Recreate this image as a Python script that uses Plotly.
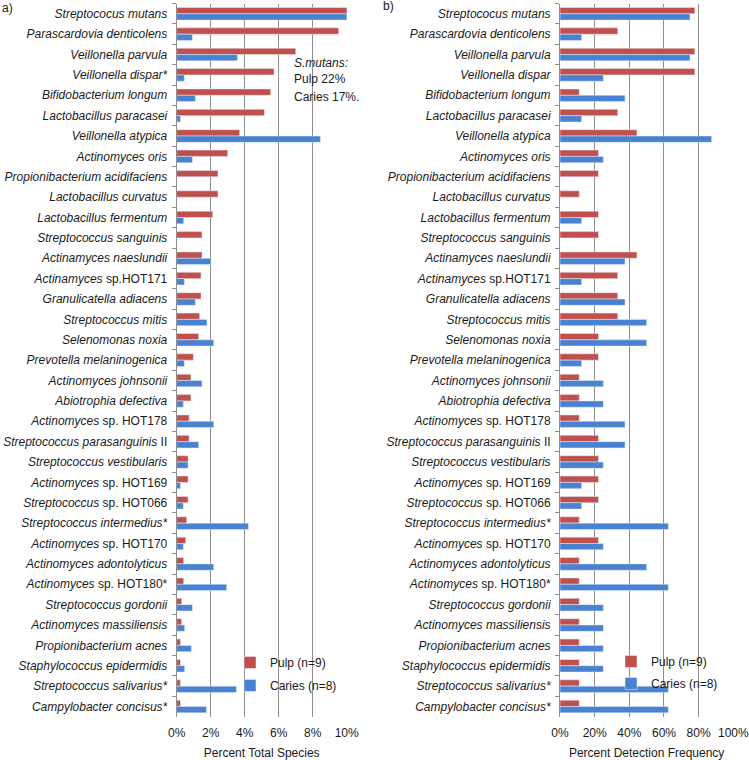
import plotly.graph_objects as go

W, H = 749, 760

species_left = [
    "<i>Streptococus mutans</i>", "<i>Parascardovia denticolens</i>", "<i>Veillonella parvula</i>",
    "<i>Veillonella dispar*</i>", "<i>Bifidobacterium longum</i>", "<i>Lactobacillus paracasei</i>",
    "<i>Veillonella atypica</i>", "<i>Actinomyces oris</i>", "<i>Propionibacterium acidifaciens</i>",
    "<i>Lactobacillus curvatus</i>", "<i>Lactobacillus fermentum</i>", "<i>Streptococcus sanguinis</i>",
    "<i>Actinamyces naeslundii</i>", "<i>Actinamyces</i> sp.HOT171", "<i>Granulicatella adiacens</i>",
    "<i>Streptococcus mitis</i>", "<i>Selenomonas noxia</i>", "<i>Prevotella melaninogenica</i>",
    "<i>Actinomyces johnsonii</i>", "<i>Abiotrophia defectiva</i>", "<i>Actinomyces</i> sp. HOT178",
    "<i>Streptococcus parasanguinis</i> II", "<i>Streptococcus vestibularis</i>", "<i>Actinomyces</i> sp. HOT169",
    "<i>Streptococcus</i> sp. HOT066", "<i>Streptococcus intermedius*</i>", "<i>Actinomyces</i> sp. HOT170",
    "<i>Actinomyces adontolyticus</i>", "<i>Actinomyces</i> sp. HOT180*", "<i>Streptococcus gordonii</i>",
    "<i>Actinomyces massiliensis</i>", "<i>Propionibacterium acnes</i>", "<i>Staphylococcus epidermidis</i>",
    "<i>Streptococcus salivarius*</i>", "<i>Campylobacter concisus*</i>",
]
species_right = [s.replace("<i>Veillonella dispar*</i>", "<i>Veillonella dispar</i>") for s in species_left]

# Panel a) Percent Total Species
pulp_total = [22, 9.53, 7.0, 5.73, 5.53, 5.16, 3.7, 3.0, 2.43, 2.43, 2.12, 1.49, 1.49, 1.43, 1.43,
              1.35, 1.29, 0.98, 0.84, 0.84, 0.73, 0.73, 0.67, 0.67, 0.67, 0.59, 0.53, 0.41, 0.41,
              0.29, 0.29, 0.22, 0.22, 0.22, 0.22]
caries_total = [17, 0.92, 3.57, 0.45, 1.1, 0.22, 8.45, 0.92, 0, 0, 0.41, 0, 2.02, 0.45, 1.1,
                1.78, 2.18, 0.45, 1.49, 0.39, 2.18, 1.29, 0.67, 0.22, 0.39, 4.22, 0.39, 2.18, 2.94,
                0.92, 0.47, 0.86, 0.47, 3.51, 1.75]

# Panel b) Percent Detection Frequency
pulp_freq = [77.8, 33.3, 77.8, 77.8, 11.1, 33.3, 44.4, 22.2, 22.2, 11.1, 22.2, 22.2, 44.4, 33.3, 33.3,
             33.3, 22.2, 22.2, 11.1, 11.1, 11.1, 22.2, 22.2, 22.2, 22.2, 11.1, 22.2, 11.1, 11.1,
             11.1, 11.1, 11.1, 11.1, 11.1, 11.1]
caries_freq = [75, 12.5, 75, 25, 37.5, 12.5, 87.5, 25, 0, 0, 12.5, 0, 37.5, 12.5, 37.5,
               50, 50, 12.5, 25, 25, 37.5, 37.5, 25, 12.5, 12.5, 62.5, 25, 50, 62.5,
               25, 25, 25, 25, 62.5, 62.5]

left_ticks = [0, 2, 4, 6, 8, 10]
left_ticktext = ["0%", "2%", "4%", "6%", "8%", "10%"]
right_ticks = [0, 20, 40, 60, 80, 100]
right_ticktext = ["0%", "20%", "40%", "60%", "80%", "100%"]

RED = "#C0504D"
BLUE = "#4A82D2"
GRID = "#8E8E8E"
FONT = "Liberation Sans, Arial, sans-serif"
TXT = "#1a1a1a"

fig = go.Figure()
fig.add_trace(go.Bar(y=species_left, x=pulp_total, orientation="h", name="Pulp (n=9)",
                     marker_color=RED, xaxis="x", yaxis="y", legend="legend", legendgroup="a1"))
fig.add_trace(go.Bar(y=species_left, x=caries_total, orientation="h", name="Caries (n=8)",
                     marker_color=BLUE, xaxis="x", yaxis="y", legend="legend", legendgroup="a2"))
fig.add_trace(go.Bar(y=species_right, x=pulp_freq, orientation="h", name="Pulp (n=9)",
                     marker_color=RED, xaxis="x2", yaxis="y2", legend="legend2", legendgroup="b1"))
fig.add_trace(go.Bar(y=species_right, x=caries_freq, orientation="h", name="Caries (n=8)",
                     marker_color=BLUE, xaxis="x2", yaxis="y2", legend="legend2", legendgroup="b2"))

ytop = 1 - 3.6 / H
ybot = 1 - 716.7 / H

xcommon = dict(showgrid=True, gridcolor=GRID, gridwidth=1, zeroline=False, showline=False,
               ticks="", tickfont=dict(size=12, color=TXT, family=FONT), automargin=False,
               ticklabelstandoff=7,
               title_font=dict(size=12, color=TXT, family=FONT), title_standoff=9)
ycommon = dict(type="category", autorange="reversed", showgrid=False, showline=True,
               linecolor=GRID, linewidth=1, ticks="outside", tickson="boundaries",
               ticklen=4, tickcolor=GRID, tickfont=dict(size=12, color=TXT, family=FONT),
               ticklabelstandoff=6, automargin=False)

fig.update_layout(
    width=W, height=H,
    margin=dict(l=0, r=0, t=0, b=0, autoexpand=False),
    paper_bgcolor="white", plot_bgcolor="white",
    barmode="group", bargap=0.38, bargroupgap=0,
    hovermode=False,
    font=dict(family=FONT, size=12, color=TXT),
    xaxis=dict(domain=[176.7 / W, 346.7 / W], range=[0, 10], tickvals=left_ticks,
               ticktext=left_ticktext, anchor="y", title_text="Percent Total Species", **xcommon),
    yaxis=dict(domain=[ybot, ytop], anchor="x", categoryorder="array", categoryarray=species_left, **ycommon),
    xaxis2=dict(domain=[560 / W, 733.3 / W], range=[0, 100], tickvals=right_ticks,
                ticktext=right_ticktext, anchor="y2", title_text="Percent Detection Frequency", **xcommon),
    yaxis2=dict(domain=[ybot, ytop], anchor="x2", categoryorder="array", categoryarray=species_right, **ycommon),
    legend=dict(x=230 / W, y=1 - 648 / H, xanchor="left", yanchor="top", bgcolor="rgba(0,0,0,0)",
                font=dict(size=12, color=TXT, family=FONT), tracegroupgap=4, traceorder="grouped"),
    legend2=dict(x=611 / W, y=1 - 647 / H, xanchor="left", yanchor="top", bgcolor="rgba(0,0,0,0)",
                 font=dict(size=12, color=TXT, family=FONT), tracegroupgap=3, traceorder="grouped"),
    annotations=[
        dict(text="a)", x=0, y=1 - 8 / H, xref="paper", yref="paper", xanchor="left",
             yanchor="middle", showarrow=False, font=dict(size=12, color=TXT)),
        dict(text="b)", x=381 / W, y=1 - 6 / H, xref="paper", yref="paper", xanchor="left",
             yanchor="middle", showarrow=False, font=dict(size=12, color=TXT)),
        dict(text="<i>S.mutans:</i>", x=292 / W, y=1 - 62.7 / H, xref="paper", yref="paper",
             xanchor="left", yanchor="middle", showarrow=False, font=dict(size=12, color=TXT)),
        dict(text="Pulp 22%", x=292 / W, y=1 - 79.3 / H, xref="paper", yref="paper",
             xanchor="left", yanchor="middle", showarrow=False, font=dict(size=12, color=TXT)),
        dict(text="Caries 17%.", x=292 / W, y=1 - 97.3 / H, xref="paper", yref="paper",
             xanchor="left", yanchor="middle", showarrow=False, font=dict(size=12, color=TXT)),
    ],
)

fig.write_html("out.html", config={"displayModeBar": False},
               post_script="document.body.style.margin='0';")
